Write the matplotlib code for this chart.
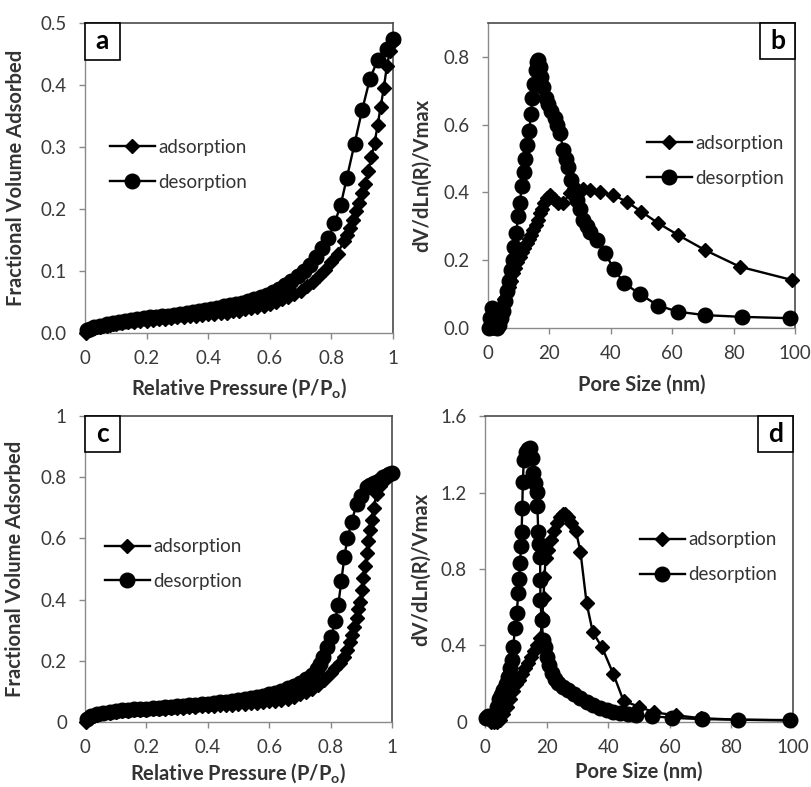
import matplotlib
matplotlib.use('Agg')
import matplotlib.pyplot as plt
from matplotlib.lines import Line2D
from matplotlib.patches import Rectangle

plt.rcParams['font.family'] = ['Lato', 'DejaVu Sans']
plt.rcParams['mathtext.fontset'] = 'custom'
plt.rcParams['mathtext.rm'] = 'Lato'
plt.rcParams['mathtext.bf'] = 'Lato:bold'

# ---- panel a: isotherm (sample 1)
a_ads_p = [0.003,0.01,0.02,0.03,0.04,0.05,0.06,0.07,0.08,0.09,0.10,
           0.12,0.14,0.16,0.18,0.20,0.22,0.24,0.26,0.28,0.30,0.32,0.34,0.36,0.38,0.40,
           0.42,0.44,0.46,0.48,0.50,0.52,0.54,0.56,0.58,0.60,0.62,0.64,0.66,0.68,0.70,
           0.72,0.74,0.76,0.78,0.80,0.82,0.84,
           0.85,0.86,0.87,0.88,0.89,0.90,0.91,0.92,0.93,0.94,0.95,0.96,0.97,0.98,0.99,1.0]
a_ads_v = [0.000,0.004,0.006,0.008,0.009,0.010,0.011,0.012,0.013,0.014,0.015,
           0.016,0.017,0.018,0.019,0.020,0.021,0.022,0.023,0.024,0.025,0.026,0.027,0.028,0.029,0.030,
           0.031,0.032,0.033,0.035,0.036,0.038,0.040,0.042,0.044,0.047,0.050,0.054,0.058,0.063,0.068,
           0.075,0.083,0.092,0.102,0.114,0.128,0.148,
           0.158,0.170,0.183,0.196,0.210,0.225,0.241,0.262,0.284,0.306,0.335,0.365,0.395,0.430,0.455,0.470]
a_des_p = [1.0,0.98,0.95,0.925,0.9,0.875,0.85,0.83,
           0.81,0.79,0.77,0.75,0.73,0.71,0.69,0.67,0.65,0.63,0.61,0.59,0.57,0.55,0.53,0.51,0.49,0.47,
           0.45,0.43,0.41,0.39,0.37,0.35,0.33,0.31,0.29,0.27,0.25,0.23,0.21,0.19,0.17,0.15,0.13,0.11,
           0.09,0.07,0.05,0.03,0.015,0.005]
a_des_v = [0.474,0.458,0.440,0.410,0.360,0.305,0.250,0.206,
           0.177,0.153,0.137,0.122,0.110,0.100,0.092,0.084,0.077,0.071,0.066,0.062,0.058,0.055,0.052,0.049,0.047,0.045,
           0.043,0.041,0.039,0.037,0.035,0.034,0.032,0.031,0.029,0.028,0.027,0.026,0.025,0.024,0.022,0.021,0.019,0.018,
           0.016,0.014,0.012,0.010,0.007,0.004]

# ---- panel b: pore size distribution (sample 1)
b_ads_s = [0.5,1.5,2.5,3.2,3.9,4.6,5.3,6.1,6.8,7.5,8.2,8.9,9.6,10.4,11.1,11.8,12.6,13.3,14.0,14.8,
           15.5,16.2,16.9,17.6,18.3,19.1,20.2,21.5,22.9,24.5,26.7,28.9,31.0,33.2,36.5,40.8,45.2,50.0,
           55.5,62.0,70.7,82.0,98.9]
b_ads_d = [0.0,0.0,0.005,0.02,0.043,0.065,0.085,0.102,0.12,0.14,0.161,0.178,0.195,0.21,0.224,0.237,0.25,0.262,0.275,0.289,
           0.305,0.32,0.338,0.352,0.368,0.383,0.392,0.38,0.368,0.37,0.397,0.41,0.41,0.407,0.402,0.392,0.373,0.343,
           0.309,0.274,0.23,0.181,0.142]
b_des_s = [0.3,0.8,1.2,1.8,2.4,3.0,3.6,4.3,5.0,5.6,6.2,6.8,7.4,8.0,8.6,9.2,9.8,10.4,11.0,11.6,
           12.2,12.8,13.4,14.0,14.5,15.0,15.5,16.0,16.4,16.8,17.3,18.0,18.8,19.6,20.6,21.8,22.6,23.5,24.5,25.3,
           26.1,27.2,28.1,28.9,30.0,31.0,32.2,33.2,35.4,38.1,41.0,44.3,49.5,55.5,62.0,70.7,82.6,98.4]
b_des_d = [0.0,0.03,0.06,0.04,0.01,0.0,0.01,0.03,0.05,0.08,0.11,0.14,0.17,0.2,0.24,0.28,0.33,0.37,0.42,0.46,
           0.5,0.54,0.58,0.63,0.68,0.72,0.76,0.785,0.79,0.77,0.74,0.71,0.68,0.66,0.64,0.62,0.6,0.575,0.525,0.5,
           0.476,0.437,0.405,0.378,0.35,0.32,0.3,0.284,0.26,0.221,0.175,0.133,0.1,0.066,0.048,0.038,0.033,0.029]

# ---- panel c: isotherm (sample 2)
c_ads_p = [0.003,0.01,0.02,0.03,0.04,0.05,0.06,0.08,0.10,0.12,0.14,0.16,0.18,0.20,0.22,0.24,0.26,0.28,0.30,0.32,
           0.34,0.36,0.38,0.40,0.42,0.44,0.46,0.48,0.50,0.52,0.54,0.56,0.58,0.60,0.62,0.64,0.66,0.68,0.70,0.72,
           0.74,0.76,0.78,0.80,0.815,0.83,0.843,0.853,0.862,0.869,0.877,0.885,0.89,0.896,0.902,0.907,0.913,0.918,
           0.923,0.928,0.934,0.94,0.95,0.96,0.97,0.98,0.99,1.0]
c_ads_v = [0.0,0.012,0.018,0.021,0.024,0.026,0.028,0.031,0.033,0.035,0.037,0.038,0.039,0.040,0.041,0.043,0.044,0.045,0.046,0.047,
           0.049,0.050,0.051,0.052,0.053,0.054,0.056,0.057,0.058,0.060,0.061,0.063,0.065,0.067,0.069,0.072,0.076,0.082,0.090,0.098,
           0.108,0.120,0.138,0.159,0.175,0.192,0.212,0.235,0.26,0.284,0.31,0.339,0.37,0.393,0.43,0.469,0.51,0.551,
           0.59,0.627,0.66,0.70,0.745,0.77,0.785,0.798,0.808,0.815]
c_des_p = [1.0,0.99,0.98,0.97,0.96,0.95,0.94,0.93,0.918,0.9,0.885,0.869,0.855,0.845,0.835,0.825,0.814,0.803,0.79,0.776,
           0.765,0.755,0.74,0.72,0.70,0.68,0.66,0.64,0.62,0.60,0.58,0.56,0.54,0.52,0.50,0.48,0.46,0.44,0.42,0.40,
           0.38,0.36,0.34,0.32,0.30,0.28,0.26,0.24,0.22,0.20,0.18,0.16,0.14,0.12,0.10,0.08,0.06,0.04,0.02,0.005]
c_des_v = [0.815,0.81,0.805,0.8,0.79,0.785,0.78,0.775,0.769,0.74,0.714,0.655,0.6,0.54,0.46,0.382,0.33,0.279,0.245,0.213,
           0.19,0.172,0.155,0.14,0.128,0.118,0.11,0.102,0.096,0.09,0.085,0.081,0.077,0.074,0.071,0.068,0.066,0.064,0.062,0.060,
           0.058,0.056,0.054,0.053,0.051,0.050,0.048,0.047,0.046,0.044,0.043,0.041,0.040,0.038,0.036,0.034,0.031,0.027,0.021,0.01]

# ---- panel d: pore size distribution (sample 2)
d_ads_s = [0.5,1.0,2.0,3.0,4.0,5.0,6.0,7.0,8.0,9.0,10.0,11.0,12.0,13.0,14.0,15.0,16.0,17.0,18.0,18.6,
           19.0,19.3,19.7,20.5,21.5,22.5,23.5,24.5,25.3,26.0,27.0,28.0,29.5,31.0,33.0,35.0,38.0,41.7,45.0,50.0,
           55.0,62.0,70.0,82.0,99.0]
d_ads_d = [0.02,0.02,0.0,0.0,0.0,0.01,0.04,0.08,0.12,0.16,0.2,0.22,0.25,0.28,0.31,0.34,0.37,0.4,0.44,0.55,
           0.65,0.76,0.86,0.9,0.95,1.0,1.04,1.07,1.09,1.09,1.07,1.04,1.0,0.89,0.62,0.47,0.39,0.25,0.11,0.08,
           0.05,0.035,0.02,0.012,0.008]
d_des_s = [0.3,1.0,2.0,2.7,3.3,3.8,4.5,5.2,5.9,6.7,7.6,8.2,8.7,9.2,9.7,10.3,10.8,11.1,11.4,11.7,
           11.9,12.1,12.3,12.6,13.2,13.9,14.6,15.2,15.7,16.3,16.8,17.0,17.3,17.6,17.9,17.95,18.0,18.4,18.9,19.4,
           20.0,20.8,21.7,22.7,23.8,25.4,27.0,28.9,30.8,33.0,35.2,37.3,39.5,41.6,43.8,46.4,49.0,54.2,60.7,70.3,
           82.2,99.0]
d_des_d = [0.02,0.03,0.02,0.01,0.03,0.08,0.12,0.14,0.167,0.2,0.237,0.28,0.324,0.394,0.49,0.568,0.673,0.75,0.83,0.92,
           0.995,1.117,1.257,1.37,1.41,1.43,1.435,1.38,1.30,1.25,1.204,1.13,0.995,0.93,0.864,0.743,0.638,0.533,0.429,0.39,
           0.341,0.3,0.255,0.225,0.202,0.185,0.167,0.145,0.124,0.105,0.089,0.075,0.063,0.054,0.045,0.04,0.035,0.03,0.022,0.015,
           0.012,0.01]

p_ticks = [0, 0.2, 0.4, 0.6, 0.8, 1.0]
p_labels = ['0', '0.2', '0.4', '0.6', '0.8', '1']
s_ticks = [0, 20, 40, 60, 80, 100]
s_labels = ['0', '20', '40', '60', '80', '100']
a_yticks = [0, 0.1, 0.2, 0.3, 0.4, 0.5]
a_ylabels = ['0.0', '0.1', '0.2', '0.3', '0.4', '0.5']
b_yticks = [0, 0.2, 0.4, 0.6, 0.8]
b_ylabels = ['0.0', '0.2', '0.4', '0.6', '0.8']
c_yticks = [0, 0.2, 0.4, 0.6, 0.8, 1.0]
c_ylabels = ['0', '0.2', '0.4', '0.6', '0.8', '1']
d_yticks = [0, 0.4, 0.8, 1.2, 1.6]
d_ylabels = ['0', '0.4', '0.8', '1.2', '1.6']

iso_xlabel = 'Relative Pressure (P/P$_{\\mathbf{o}}$)'
iso_ylabel = 'Fractional Volume Adsorbed'
psd_xlabel = 'Pore Size (nm)'
psd_ylabel = 'dV/dLn(R)/Vmax'

fig = plt.figure(figsize=(8.11, 7.87), dpi=100)


def panel(rect, letter, right_box, ax_, ay_, dx_, dy_, xlim, ylim, xt, xtl, yt, ytl,
          xlabel, ylabel, xlab_y, ylab_x, leg_xy):
    ax = fig.add_axes(rect)
    ax.plot(ax_, ay_, color='black', lw=1.7, marker='D', ms=7.3, clip_on=False, zorder=3)
    ax.plot(dx_, dy_, color='black', lw=1.7, marker='o', ms=10.5, clip_on=False, zorder=3)
    ax.set_xlim(xlim)
    ax.set_ylim(ylim)
    ax.set_xticks(xt)
    ax.set_xticklabels(xtl)
    ax.set_yticks(yt)
    ax.set_yticklabels(ytl)
    ax.tick_params(direction='out', length=4, width=1, color='#888888',
                   labelsize=13.5, labelcolor='#3a3a3a')
    ax.tick_params(axis='x', pad=8)
    ax.tick_params(axis='y', pad=9)
    for sp in ['left', 'bottom']:
        ax.spines[sp].set_color('#8a8a8a')
        ax.spines[sp].set_linewidth(1.0)
    for sp in ['top', 'right']:
        ax.spines[sp].set_color('#4a4a4a')
        ax.spines[sp].set_linewidth(1.2)
    ax.set_xlabel(xlabel, fontsize=14.5, fontweight='bold', color='#333333')
    ax.set_ylabel(ylabel, fontsize=14.5, fontweight='bold', color='#333333')
    ax.xaxis.set_label_coords(0.5, xlab_y)
    ax.yaxis.set_label_coords(ylab_x, 0.5)
    handles = [Line2D([], [], color='black', lw=1.7, marker='D', ms=7.3),
               Line2D([], [], color='black', lw=1.7, marker='o', ms=10.5)]
    ax.legend(handles, ['adsorption', 'desorption'], loc='center left', bbox_to_anchor=leg_xy,
              frameon=False, fontsize=13.5, handlelength=2.4, handletextpad=0.2,
              labelspacing=0.95, borderpad=0, borderaxespad=0, labelcolor='#333333')
    bw, bh = 0.114, 0.118
    bx = 1 - bw if right_box else 0
    ax.add_patch(Rectangle((bx, 1 - bh), bw, bh, transform=ax.transAxes, facecolor='white',
                           edgecolor='black', lw=1.2, zorder=5, clip_on=False))
    ax.text(bx + bw / 2, 1 - bh / 2, letter, transform=ax.transAxes, ha='center', va='center',
            fontsize=19, fontweight='bold', zorder=6)
    return ax


panel([0.1048, 0.5769, 0.3798, 0.3939], 'a', False, a_ads_p, a_ads_v, a_des_p, a_des_v,
      (0, 1), (0, 0.5), p_ticks, p_labels, a_yticks, a_ylabels, iso_xlabel, iso_ylabel,
      -0.14, -0.192, (0.081, 0.542))
panel([0.6017, 0.5832, 0.3785, 0.3876], 'b', True, b_ads_s, b_ads_d, b_des_s, b_des_d,
      (0, 100), (0, 0.9), s_ticks, s_labels, b_yticks, b_ylabels, psd_xlabel, psd_ylabel,
      -0.152, -0.181, (0.518, 0.548))
panel([0.1048, 0.0826, 0.3785, 0.3888], 'c', False, c_ads_p, c_ads_v, c_des_p, c_des_v,
      (0, 1), (0, 1), p_ticks, p_labels, c_yticks, c_ylabels, iso_xlabel, iso_ylabel,
      -0.13, -0.195, (0.065, 0.516))
panel([0.598, 0.0826, 0.3798, 0.3888], 'd', True, d_ads_s, d_ads_d, d_des_s, d_des_d,
      (0, 100), (0, 1.6), s_ticks, s_labels, d_yticks, d_ylabels, psd_xlabel, psd_ylabel,
      -0.13, -0.174, (0.503, 0.538))

fig.savefig('out.png', dpi=100)
